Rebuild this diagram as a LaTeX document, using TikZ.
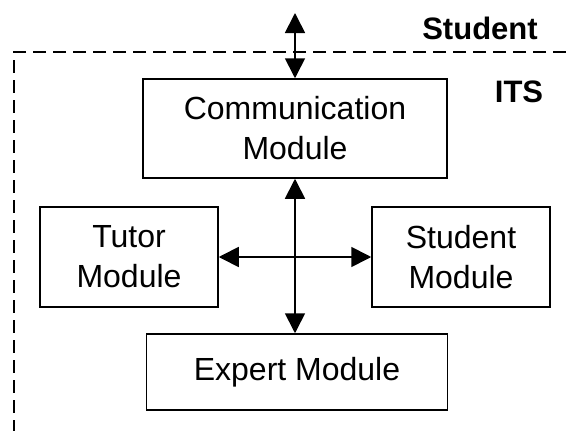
\documentclass[tikz,border=0pt]{standalone}
\usepackage{fontspec}
\setmainfont{Liberation Sans}
\usetikzlibrary{arrows.meta}

\tikzset{
  module/.style={draw, line width=1.5pt, align=center, inner sep=0pt,
    font=\fontsize{32}{40}\selectfont},
  label/.style={font=\fontsize{31}{36}\selectfont\bfseries},
  link/.style={line width=1.7pt, {Triangle[length=20pt,width=20pt]}-{Triangle[length=20pt,width=20pt]}}
}

\begin{document}
\begin{tikzpicture}[x=1pt, y=-1pt]
            \useasboundingbox (0,0) rectangle (566,431);
            % system border
            \draw[line width=1.2pt, dash pattern=on 13pt off 7pt] (566,52) -- (14,52) -- (14,431);
            \node[label] (stud) at (480,28) {Student};
            \node[label] (its) at (519,92) {ITS};
            % modules
            \node[module, minimum width=304pt, minimum height=99pt] (comm) at (295,128.5) {Communication\\Module};
            \node[module, minimum width=178pt, minimum height=100pt] (tutor) at (129,257) {Tutor\\Module};
            \node[module, minimum width=178pt, minimum height=100pt] (smod) at (461,257) {Student\\Module};
            \node[module, minimum width=301pt, minimum height=76pt] (expert) at (297,372) {Expert Module};
            \coordinate (top) at (295,13);
            % links
            \draw[link] (top) -- (comm.north);
            \draw[link] (comm.south) -- (expert.north -| comm.south);
            \draw[link] (tutor.east) -- (smod.west);
\end{tikzpicture}
\end{document}
